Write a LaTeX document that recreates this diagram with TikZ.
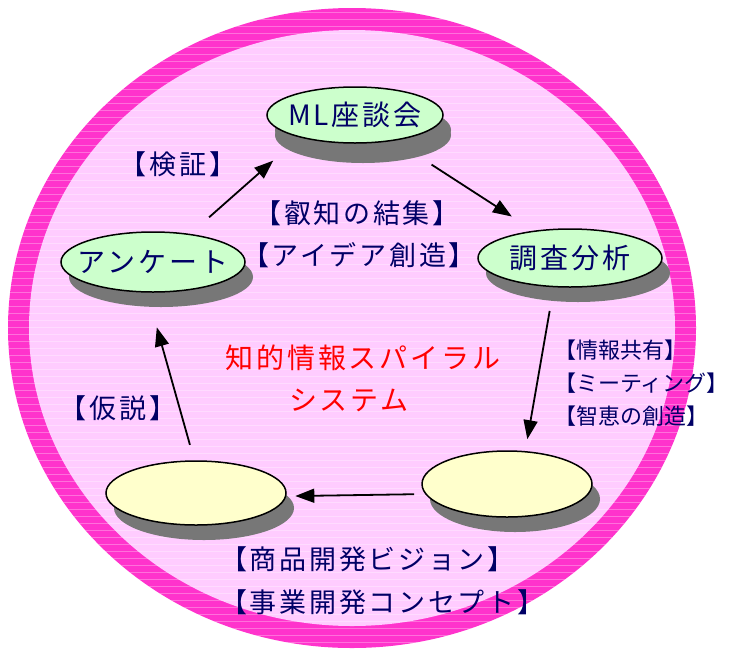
\documentclass[tikz,border=0pt]{standalone}
\usepackage{fontspec}
\usetikzlibrary{shapes.geometric,shadows,arrows.meta}
\newfontfamily\jpfont[LetterSpace=10]{Noto Sans CJK JP}
\newfontfamily\jpnarrow{Noto Sans CJK JP}
\definecolor{ringpink}{RGB}{255,51,204}
\definecolor{bgpink}{RGB}{255,204,255}
\definecolor{paleg}{RGB}{204,255,204}
\definecolor{palel}{RGB}{255,255,204}
\definecolor{shade}{RGB}{119,119,119}
\definecolor{tagblue}{RGB}{0,0,102}
\tikzset{ %楕円と文字
    bub/.style={ellipse, draw=black, line width=1.5pt, inner sep=0pt,
        drop shadow={shadow xshift=8pt, shadow yshift=-15pt, fill=shade, opacity=1}},
    bubtxt/.style={font=\jpfont\fontsize{28}{34}\selectfont, text=tagblue, inner sep=0pt},
    tag/.style={font=\jpfont\fontsize{27}{43}\selectfont, text=tagblue, inner sep=0pt},
    title/.style={font=\jpfont\fontsize{28}{34}\selectfont, text=red, inner sep=0pt},
    flow/.style={-{Triangle[length=19pt,width=14pt]}, line width=1.8pt},
}

\begin{document}
\begin{tikzpicture}[x=1pt,y=-1pt]
			\useasboundingbox (0,0) rectangle (735,651);
			\fill[ringpink] (352,328) ellipse [x radius=344, y radius=320];
			\fill[bgpink] (352,328) ellipse [x radius=323, y radius=298];
			\begin{scope}
				\clip (352,328) ellipse [x radius=344, y radius=320];
				\foreach \y in {12,19,...,648}{
					\draw[white, opacity=0.3, line width=0.7pt] (0,\y) -- (735,\y);
				}
			\end{scope}
			% ellipses
			\node[bub, fill=paleg, minimum width=176, minimum height=56,
				drop shadow={shadow xshift=8pt, shadow yshift=-20pt, fill=shade, opacity=1}] (ml) at (355,115) {};
			\node[bub, fill=paleg, minimum width=184, minimum height=58] (chosa) at (570,258) {};
			\node[bub, fill=paleg, minimum width=184, minimum height=60] (anke) at (153,262) {};
			\node[bub, fill=palel, minimum width=170, minimum height=66] (ovR) at (507,484) {};
			\node[bub, fill=palel, minimum width=180, minimum height=64] (ovL) at (196,493) {};
			\node[bubtxt] (ml-t) at (ml) {ML座談会};
			\node[bubtxt] (chosa-t) at (chosa) {調査分析};
			\node[bubtxt] (anke-t) at (anke) {アンケート};
			% arrows
			\draw[flow, shorten <=25pt, shorten >=35pt] (anke.37) -- (ml.202);
			\draw[flow, shorten <=44pt, shorten >=26pt] (ml.-33) -- (chosa.143);
			\draw[flow, shorten <=24pt, shorten >=12pt] (chosa.-119) -- (ovR.61);
			\draw[flow, shorten <=11pt, shorten >=9pt] (ovR.187) -- (ovL.-2);
			\draw[flow, shorten <=16pt, shorten >=36pt] (ovL.93) -- (anke.259);
			% labels
			\node[tag] (kensho) at (178,164) {【検証】};
			\node[tag] (eichi) at (357,213) {【叡知の結集】};
			\node[tag] (idea) at (359,255) {【アイデア創造】};
			\node[title] (spiral) at (363,358) {知的情報スパイラル};
			\node[title] (system) at (349,400) {システム};
			\node[tag, anchor=west, align=left, font=\jpnarrow\fontsize{22}{33}\selectfont] (kyoyu) at (554,383) {【情報共有】\\【ミーティング】\\【智恵の創造】};
			\node[tag] (kasetsu) at (118,408) {【仮説】};
			\node[tag, anchor=west, align=left] (vision) at (220,581) {【商品開発ビジョン】\\【事業開発コンセプト】};
		\end{tikzpicture}
\end{document}
